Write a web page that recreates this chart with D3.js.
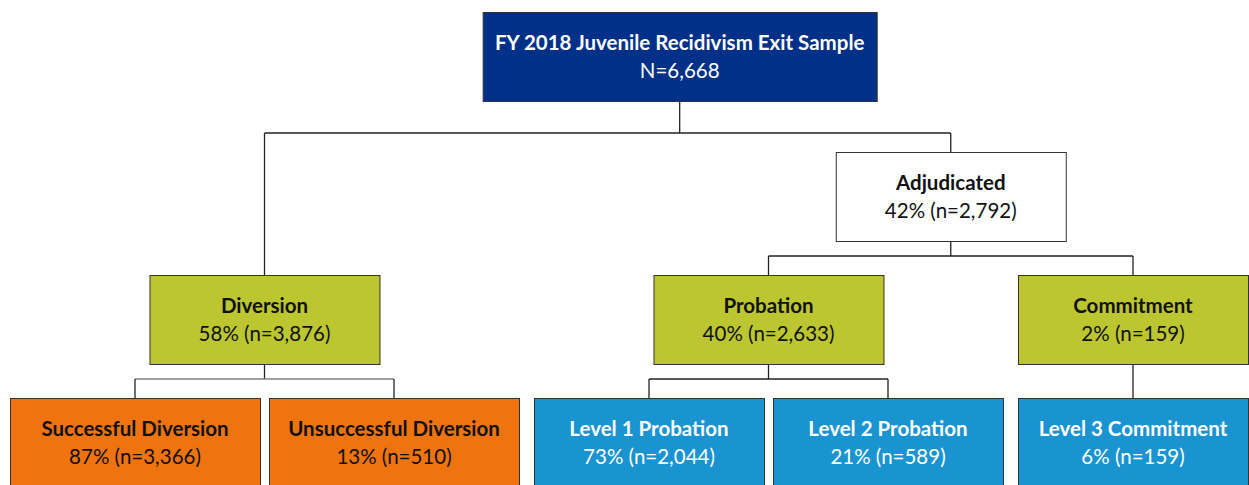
<!DOCTYPE html>
<html>
<head>
<meta charset="utf-8">
<script src="https://cdn.jsdelivr.net/npm/d3@7"></script>
<style>
  body { margin: 0; background: #fff; }
  text { font-family: Lato, "Open Sans", sans-serif; }
</style>
</head>
<body>
<div id="chart"></div>
<script>
// node data
var names = ["FY 2018 Juvenile Recidivism Exit Sample", "Diversion", "Adjudicated", "Probation", "Commitment",
  "Successful Diversion", "Unsuccessful Diversion", "Level 1 Probation", "Level 2 Probation", "Level 3 Commitment"];
var parents = ["", "FY 2018 Juvenile Recidivism Exit Sample", "FY 2018 Juvenile Recidivism Exit Sample", "Adjudicated", "Adjudicated",
  "Diversion", "Diversion", "Probation", "Probation", "Commitment"];
var pcts = [null, 58, 42, 40, 2, 87, 13, 73, 21, 6];
var counts = [6668, 3876, 2792, 2633, 159, 3366, 510, 2044, 589, 159];

var svgWidth = 1249;
var svgHeight = 485;
var margin = { left: 10 };

var svg = d3.select("#chart")
  .append("svg")
  .attr("width", svgWidth)
  .attr("height", svgHeight);

var table = names.map((n, i) => ({ name: n, parent: parents[i], pct: pcts[i], n: counts[i] }));

var root = d3.stratify()
  .id(d => d.name)
  .parentId(d => d.parent || null)(table);

var boxH = 89;
// row = 3 - height, so Diversion drops to the same row as Probation
var rowTop = d3.scaleOrdinal().domain([0, 1, 2, 3]).range([12, 152, 275, 398]);

root.each(d => {
  d.row = 3 - d.height;
  if (d.depth === 0) d.w = 394;
  else if (d.row === 3 && d.parent.id === "Diversion") d.w = 250;
  else d.w = 230;
});

// leaves stacked left to right, small gap between siblings, wider between cousins
var leaves = root.leaves();
var gaps = leaves.map((d, i) => i === 0 ? 0 : (d.parent === leaves[i - 1].parent ? 9 : 15));
var lefts = d3.cumsum(leaves, (d, i) => gaps[i] + (i ? leaves[i - 1].w : 0));
leaves.forEach((d, i) => { d.cx = margin.left + lefts[i] + d.w / 2; });
root.eachAfter(d => {
  if (d.children) d.cx = (d.children[0].cx + d.children[d.children.length - 1].cx) / 2;
});
// top box sits a bit right of the midpoint between its two children
root.cx = d3.interpolateNumber(root.children[0].cx, root.children[1].cx)(0.605);

var fmt = d3.format(",");

root.each(d => {
  d.top = rowTop(d.row);
  if (d.depth === 0) { d.fill = "#003087"; d.color = "#fff"; }
  else if (d.row === 1) { d.fill = "#fff"; d.color = "#111"; }
  else if (d.row === 2) { d.fill = "#bcc631"; d.color = "#111"; }
  else if (d.parent.id === "Diversion") { d.fill = "#ef740f"; d.color = "#111"; }
  else { d.fill = "#1a93d1"; d.color = "#fff"; }
});

// connectors
var links = svg.append("g");
root.descendants().filter(d => d.children).forEach(p => {
  var busY = d3.min(p.children, c => c.top) - 19;
  var xs = p.children.map(c => c.cx);
  links.append("path")
    .attr("d", `M${p.cx},${p.top + boxH}V${busY}`)
    .attr("fill", "none")
    .attr("stroke", "#222")
    .attr("stroke-width", 1.3);
  links.append("path")
    .attr("d", `M${d3.min(xs)},${busY}H${d3.max(xs)}`)
    .attr("fill", "none")
    .attr("stroke", p.id === "Diversion" ? "#7f7f7f" : "#222")
    .attr("stroke-width", 1.3);
  p.children.forEach(c => {
    links.append("path")
      .attr("d", `M${c.cx},${busY}V${c.top}`)
      .attr("fill", "none")
      .attr("stroke", "#222")
      .attr("stroke-width", 1.3);
  });
});

var nodes = svg.selectAll("g.node")
  .data(root.descendants())
  .enter()
  .append("g")
  .attr("class", "node")
  .attr("transform", d => `translate(${d.cx},${d.top})`);

nodes.append("rect")
  .attr("x", d => -d.w / 2 + 0.5)
  .attr("y", 0.5)
  .attr("width", d => d.w)
  .attr("height", boxH)
  .attr("fill", d => d.fill)
  .attr("stroke", "#333")
  .attr("stroke-width", 1);

nodes.append("text")
  .attr("x", 0)
  .attr("y", boxH / 2 - 14)
  .attr("dy", "0.35em")
  .attr("text-anchor", "middle")
  .attr("font-size", "20.5px")
  .attr("font-weight", "bold")
  .attr("fill", d => d.color)
  .text(d => d.id);

nodes.append("text")
  .attr("x", 0)
  .attr("y", boxH / 2 + 14)
  .attr("dy", "0.35em")
  .attr("text-anchor", "middle")
  .attr("font-size", "20.5px")
  .attr("fill", d => d.color)
  .text(d => d.depth === 0 ? `N=${fmt(d.data.n)}` : `${d.data.pct}% (n=${fmt(d.data.n)})`);
</script>
</body>
</html>
